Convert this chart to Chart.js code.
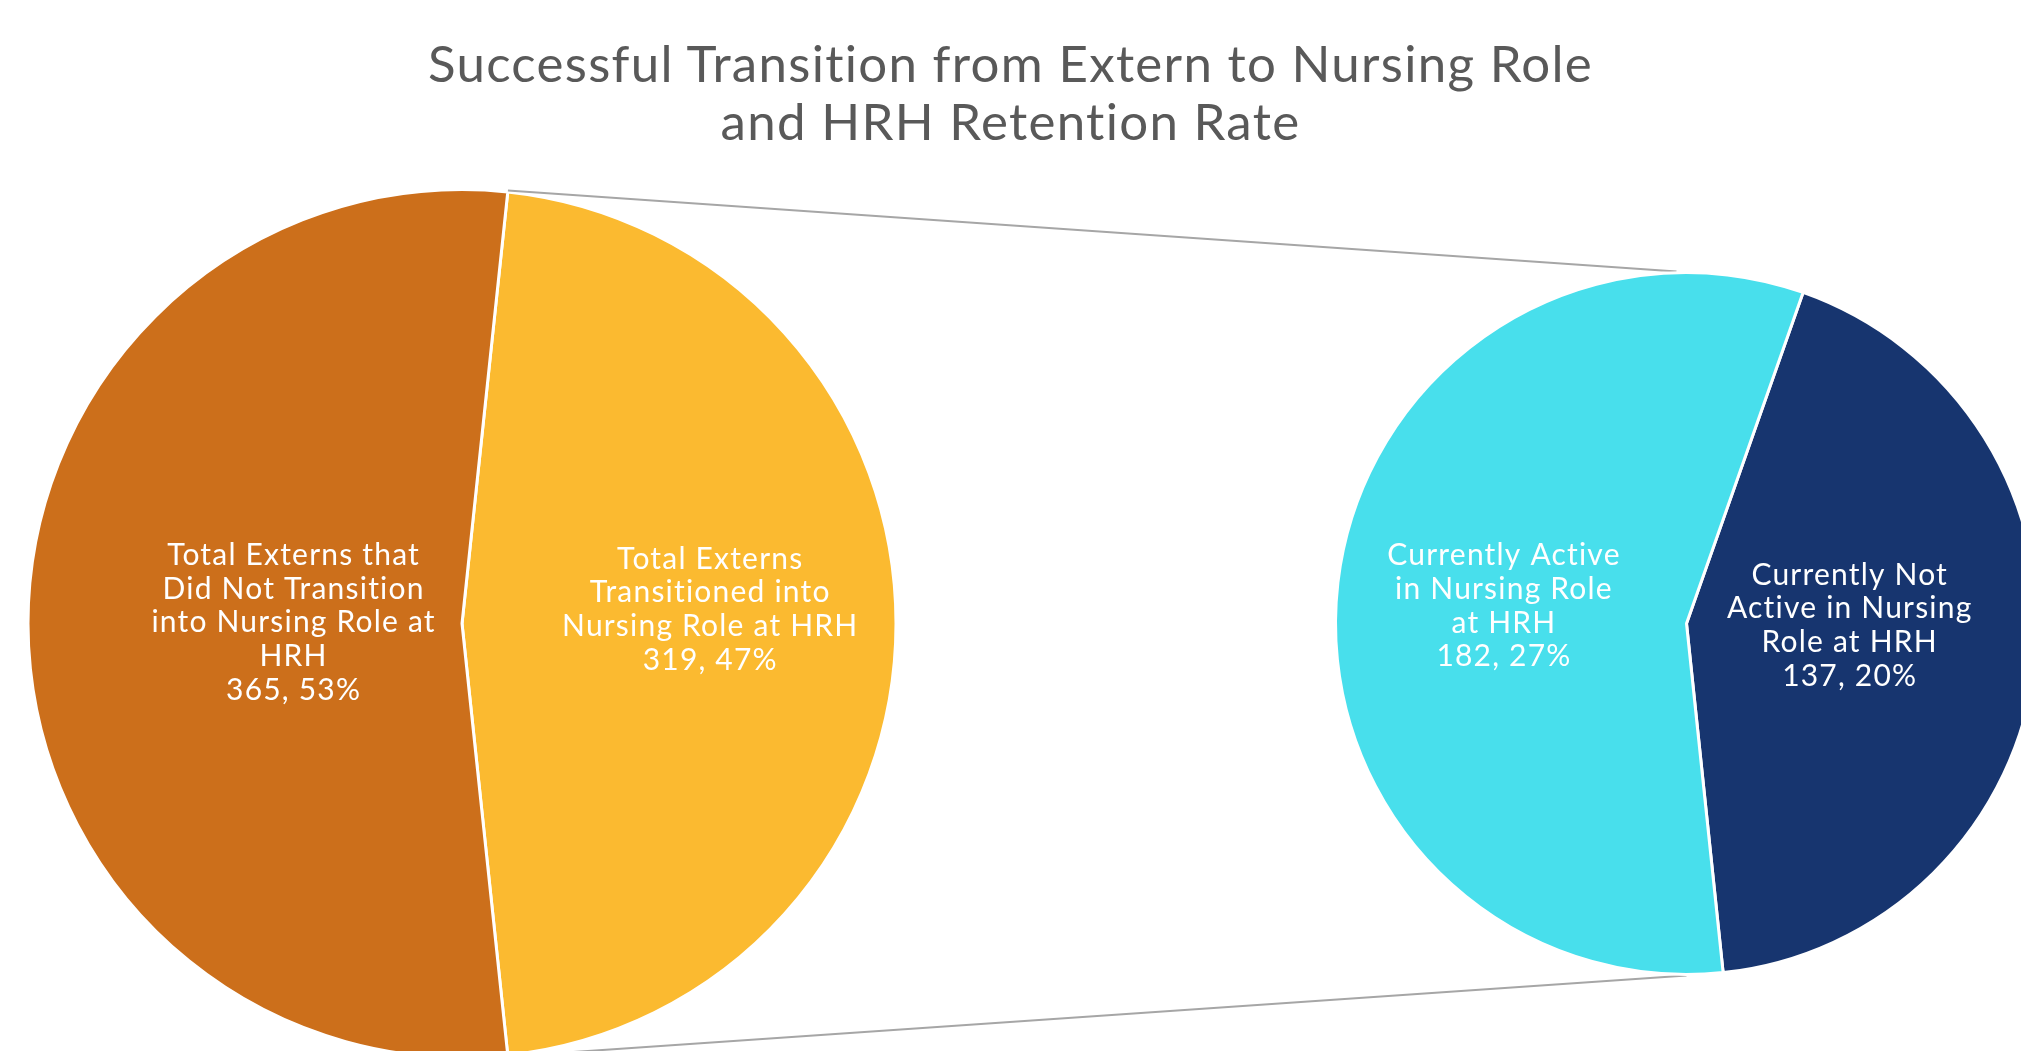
<!DOCTYPE html>
<html>
<head>
<meta charset="utf-8">
<script src="https://cdn.jsdelivr.net/npm/chart.js@4.4.1/dist/chart.umd.min.js"></script>
<style>
html,body{margin:0;padding:0;overflow:hidden;background:#fff;width:2021px;height:1051px;}
#wrap{position:relative;width:2021px;height:1051px;overflow:hidden;background:#fff;}
canvas{position:absolute;left:0;top:0;}
#title{position:absolute;left:0;top:34px;width:2021px;text-align:center;font-family:Lato,"Noto Sans",sans-serif;font-size:51px;line-height:58px;letter-spacing:1.3px;color:#595959;font-variant-ligatures:none;font-feature-settings:"liga" 0;}
</style>
</head>
<body>
<div id="wrap">
  <canvas id="main" width="2060" height="1100"></canvas>
  <canvas id="sub" width="2060" height="1100"></canvas>
  <div id="title"></div>
</div>
<script>
// ---- data ----
const chartTitle = ["Successful Transition from Extern to Nursing Role", "and HRH Retention Rate"];
const mainCategories = [
  ["Total Externs", "Transitioned into", "Nursing Role at HRH"],
  ["Total Externs that", "Did Not Transition", "into Nursing Role at", "HRH"]
];
const mainValues = [319, 365];
const subCategories = [
  ["Currently Not", "Active in Nursing", "Role at HRH"],
  ["Currently Active", "in Nursing Role", "at HRH"]
];
const subValues = [137, 182];

const mainColors = ["#FBBA30", "#CC6F1B"];
const subColors = ["#17356F", "#48DFEC"];
const grandTotal = mainValues.reduce((a, b) => a + b, 0);

document.getElementById('title').innerHTML = chartTitle.join('<br>');

const labelPlugin = {
  id: 'sliceLabels',
  afterDatasetsDraw(chart, args, opts) {
    const meta = chart.getDatasetMeta(0);
    const ctx = chart.ctx;
    ctx.save();
    ctx.font = opts.font;
    ctx.fillStyle = opts.color;
    ctx.textAlign = 'center';
    ctx.textBaseline = 'middle';
    if ('letterSpacing' in ctx) ctx.letterSpacing = opts.letterSpacing;
    meta.data.forEach((arc, i) => {
      const lines = [...chart.data.labels[i]];
      const v = chart.data.datasets[0].data[i];
      lines.push(v + ', ' + Math.round(v / grandTotal * 100) + '%');
      const off = opts.offsets[i];
      const cx = arc.x + off[0] * arc.outerRadius;
      const cy = arc.y + off[1] * arc.outerRadius;
      const lh = opts.lineHeight;
      lines.forEach((t, k) => ctx.fillText(t, cx, cy + (k - (lines.length - 1) / 2) * lh));
    });
    ctx.restore();
  }
};

const baseOptions = {
  responsive: false,
  animation: false,
  events: [],
  plugins: { legend: { display: false }, tooltip: { enabled: false }, title: { display: false } }
};

const labelFont = '30px Lato, "Noto Sans", sans-serif';
const mainRotation = 90 - (mainValues[0] / grandTotal * 360) / 2;

const mainChart = new Chart(document.getElementById('main'), {
  type: 'pie',
  data: {
    labels: mainCategories,
    datasets: [{ data: mainValues, backgroundColor: mainColors, borderColor: '#ffffff', borderWidth: 3 }]
  },
  options: Object.assign({}, baseOptions, {
    rotation: mainRotation,
    layout: { padding: { left: 26, right: 1162, top: 188, bottom: 41 } },
    plugins: Object.assign({}, baseOptions.plugins, {
      sliceLabels: { font: labelFont, letterSpacing: '1.2px', color: '#ffffff', lineHeight: 33.8,
        offsets: [[0.572, -0.032], [-0.388, -0.002]] }
    })
  }),
  plugins: [labelPlugin]
});

const connectorPlugin = {
  id: 'connectors',
  beforeDatasetsDraw(chart, args, opts) {
    const m = mainChart.getDatasetMeta(0).data[0];
    const s = chart.getDatasetMeta(0).data[0];
    const R = m.outerRadius + 1.5;
    const p1 = [m.x + Math.cos(m.startAngle) * R, m.y + Math.sin(m.startAngle) * R];
    const p2 = [m.x + Math.cos(m.endAngle) * R, m.y + Math.sin(m.endAngle) * R];
    const q1 = [s.x - 10, s.y - s.outerRadius - 1];
    const q2 = [s.x, s.y + s.outerRadius + 1];
    const ctx = chart.ctx;
    ctx.save();
    ctx.strokeStyle = opts.color;
    ctx.lineWidth = opts.width;
    ctx.beginPath();
    ctx.moveTo(p1[0], p1[1]); ctx.lineTo(q1[0], q1[1]);
    ctx.moveTo(p2[0], p2[1]); ctx.lineTo(q2[0], q2[1]);
    ctx.stroke();
    ctx.restore();
  }
};

const subChart = new Chart(document.getElementById('sub'), {
  type: 'pie',
  data: {
    labels: subCategories,
    datasets: [{ data: subValues, backgroundColor: subColors, borderColor: '#ffffff', borderWidth: 3 }]
  },
  options: Object.assign({}, baseOptions, {
    rotation: 19.4,
    layout: { padding: { left: 1334, right: 21, top: 271, bottom: 124 } },
    plugins: Object.assign({}, baseOptions.plugins, {
      connectors: { color: '#A6A6A6', width: 2 },
      sliceLabels: { font: labelFont, letterSpacing: '1.2px', color: '#ffffff', lineHeight: 33.8,
        offsets: [[0.465, 0.006], [-0.52, -0.05]] }
    })
  }),
  plugins: [connectorPlugin, labelPlugin]
});
</script>
</body>
</html>
